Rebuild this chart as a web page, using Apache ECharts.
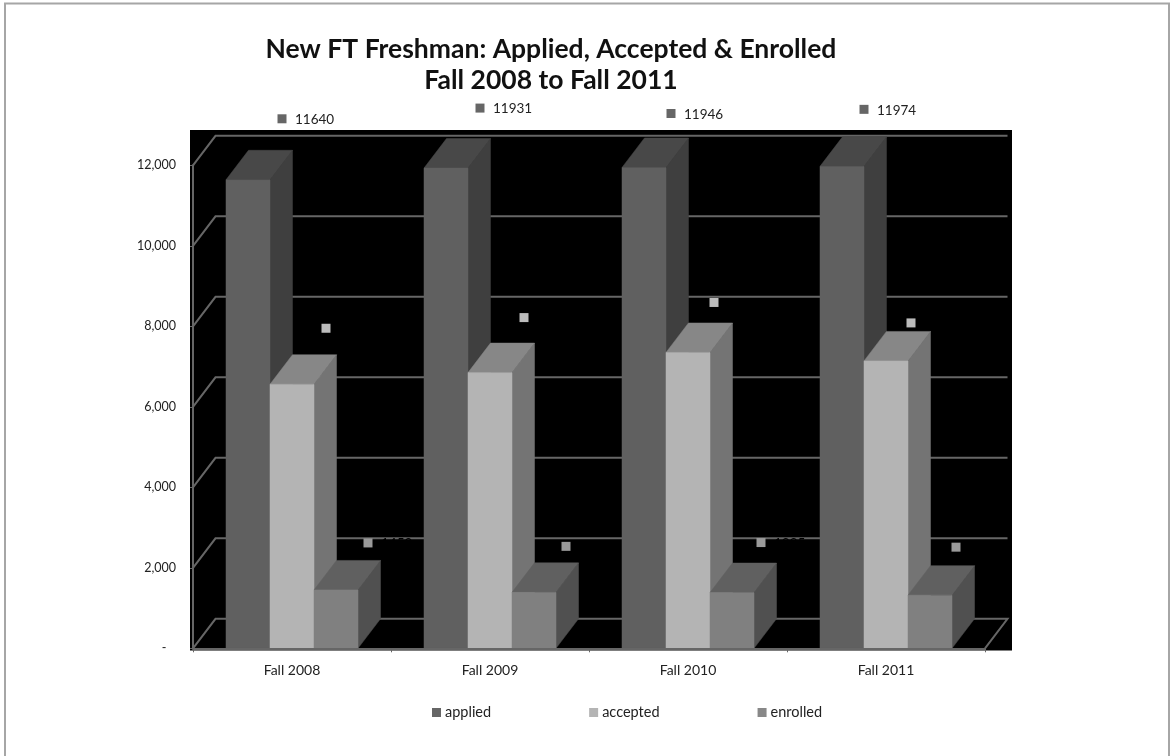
<!DOCTYPE html>
<html><head><meta charset="utf-8">
<style>html,body{margin:0;padding:0;background:#fff}#c{width:1171px;height:756px}</style>
<script src="https://cdn.jsdelivr.net/npm/echarts@6/dist/echarts.min.js"></script>
</head><body><div id="c"></div>
<script>
const categories = ['Fall 2008','Fall 2009','Fall 2010','Fall 2011'];
const applied  = [11640,11931,11946,11974];
const accepted = [6560,6850,7350,7140];
const enrolled = [1450,1390,1385,1320];
const yTicks = [0,2000,4000,6000,8000,10000,12000];

// manually-placed label squares in the original, relative to the bar's front-top-left corner
const labelOffsets = {
  applied:  [[56,-61],[56,-60],[49,-54],[44,-57]],
  accepted: [[56,-56],[56,-55],[48,-50],[47,-38]],
  enrolled: [[54,-47],[54,-46],[51,-50],[48,-48]]
};
const faces = {
  applied:  {front:'#606060', top:'#484848', side:'#3f3f3f', label:'#666666', legend:'#666666', text:'#222222'},
  accepted: {front:'#b4b4b4', top:'#878787', side:'#747474', label:'#bcbcbc', legend:'#b4b4b4', text:'#000000'},
  enrolled: {front:'#808080', top:'#606060', side:'#505050', label:'#9a9a9a', legend:'#888888', text:'#000000'}
};
const DX = 22.5, DY = -29.5, BAR_FRAC = 44/198, GRID_COL = '#666666', FONT = 'Lato, "Open Sans", sans-serif';

function barSeries(name, values, idx){
  const f = faces[name];
  return {
    type:'custom', name, coordinateSystem:'cartesian2d', z:3+idx,
    itemStyle:{color:f.legend},
    encode:{x:0,y:1},
    data: values.map((v,i)=>[i,v]),
    renderItem(params, api){
      const cat = api.value(0), val = api.value(1);
      const band = api.size([1,0])[0];
      const w = band*BAR_FRAC;
      const c = api.coord([cat,val]), b = api.coord([cat,0]);
      const x0 = c[0]-1.5*w+idx*w, x1 = x0+w, yT = c[1], yB = b[1];
      const poly = (pts,col)=>({type:'polygon',shape:{points:pts},style:{fill:col,stroke:col,lineWidth:0.5}});
      const off = labelOffsets[name][cat];
      const sx = x0+off[0], sy = yT+off[1];
      return {type:'group',children:[
        poly([[x1,yB],[x1+DX,yB+DY],[x1+DX,yT+DY],[x1,yT]],f.side),
        poly([[x0,yT],[x1,yT],[x1+DX,yT+DY],[x0+DX,yT+DY]],f.top),
        poly([[x0,yT],[x1,yT],[x1,yB],[x0,yB]],f.front),
        {type:'rect',shape:{x:sx-4.5,y:sy-4.5,width:9,height:9},style:{fill:f.label},z2:50},
        {type:'text',style:{x:sx+13,y:sy+1,text:String(val),fill:f.text,font:'13.5px '+FONT,textVerticalAlign:'middle'},z2:50}
      ]};
    }
  };
}

const wallSeries = {
  type:'custom', name:'wall', coordinateSystem:'cartesian2d', z:2, silent:true, legendHoverLink:false,
  encode:{y:0},
  data: yTicks.map(v=>[v]),
  renderItem(params, api){
    const v = api.value(0), cs = params.coordSys;
    const y = api.coord([0,v])[1], xL = cs.x, xR = cs.x+cs.width;
    const style = {stroke:GRID_COL,lineWidth:2,fill:'none'};
    const pts = v===0
      ? [[xL,y],[xL+DX,y+DY],[xR+DX,y+DY],[xR,y]]
      : [[xL,y],[xL+DX,y+DY],[xR+DX,y+DY]];
    return {type:'polyline',shape:{points:pts},style};
  }
};

const chart = echarts.init(document.getElementById('c'),null,{renderer:'canvas'});
chart.setOption({
  animation:false,
  backgroundColor:'#ffffff',
  title:{
    text:'New FT Freshman: Applied, Accepted & Enrolled\nFall 2008 to Fall 2011',
    left:546, top:29, textAlign:'center',
    textStyle:{fontFamily:FONT,fontWeight:'bold',fontSize:26.5,lineHeight:31,color:'#111111'}
  },
  graphic:[
    {type:'polyline',silent:true,shape:{points:[[5,756],[5,3.5],[1169,3.5],[1169,756]]},style:{stroke:'#a6a6a6',lineWidth:2,fill:'none'},z:-2},
    {type:'rect',silent:true,shape:{x:190,y:130,width:822,height:520.5},style:{fill:'#000000'},z:-1}
  ],
  legend:{
    data:['applied','accepted','enrolled'],
    left:427, top:700, icon:'rect', itemWidth:9, itemHeight:9, itemGap:98,
    textStyle:{fontFamily:FONT,fontSize:14.5,color:'#222222',padding:[0,0,0,-1]},
    selectedMode:false
  },
  grid:{left:193,right:186,top:165.3,bottom:107.7,containLabel:false},
  xAxis:{
    type:'category',data:categories,z:6,
    axisLine:{show:true,lineStyle:{color:GRID_COL,width:2}},
    axisTick:{show:true,alignWithLabel:false,length:4,lineStyle:{color:GRID_COL,width:1}},
    axisLabel:{fontFamily:FONT,fontSize:14,color:'#222222',margin:15},
    splitLine:{show:false}
  },
  yAxis:{
    type:'value',min:0,max:12000,interval:2000,z:6,
    axisLine:{show:true,lineStyle:{color:GRID_COL,width:2}},
    axisTick:{show:true,length:3,lineStyle:{color:GRID_COL,width:1}},
    axisLabel:{fontFamily:FONT,fontSize:12.5,color:'#222222',margin:17,padding:[4,0,0,0],
      formatter:v=>v===0?'-   ':v.toLocaleString('en-US')},
    splitLine:{show:false}
  },
  series:[wallSeries, barSeries('applied',applied,0), barSeries('accepted',accepted,1), barSeries('enrolled',enrolled,2)]
});
</script></body></html>
